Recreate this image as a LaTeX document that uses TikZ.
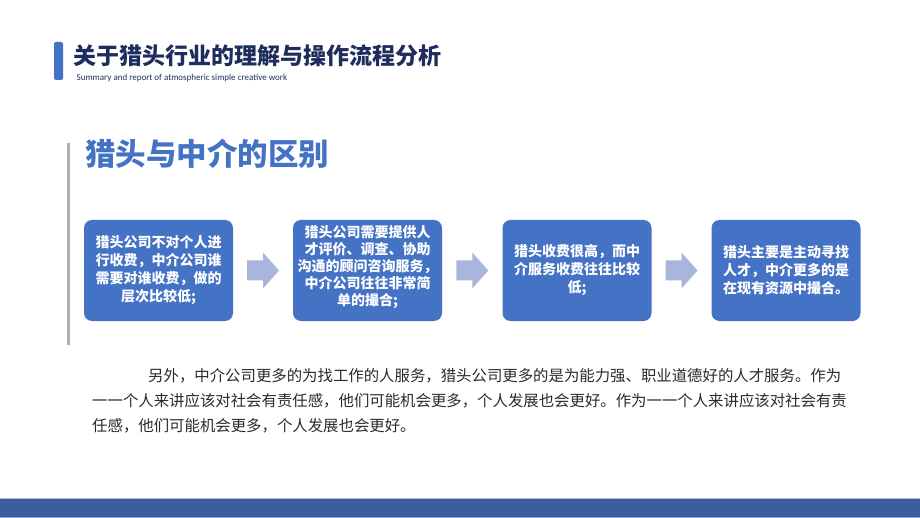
\documentclass[tikz,border=0pt]{standalone}
\usepackage{fontspec}
\setmainfont{Carlito}
\newfontfamily\cjk{Noto Sans CJK SC}
\XeTeXlinebreaklocale "zh"
\XeTeXlinebreakskip=0pt plus 2pt
\definecolor{accent}{HTML}{4472C4}
\definecolor{navy}{HTML}{1E2D5E}
\definecolor{arrowc}{HTML}{A9B5DD}
\definecolor{bodytxt}{HTML}{2B2B2B}
\definecolor{barblue}{HTML}{3A5E9E}
\definecolor{barlight}{HTML}{8EA7D0}
\definecolor{vline}{HTML}{AFAFAF}
\tikzset{
  stepbox/.style={fill=accent, rounded corners=8pt, minimum width=149pt, minimum height=101pt, inner sep=0pt},
  boxtxt/.style={text=white, align=center, inner sep=0pt, font=\cjk\bfseries\fontsize{14}{18}\selectfont},
  flowarrow/.style={fill=arrowc, draw=none},
  bodyline/.style={anchor=west, inner sep=0pt, text=bodytxt, font=\cjk\fontsize{15.4}{20}\selectfont}
}
\begin{document}
\begin{tikzpicture}[x=1pt,y=-1pt]
\useasboundingbox (0,0) rectangle (920,518);
\fill[white] (0,0) rectangle (920,518);
% header
\fill[accent, rounded corners=2pt] (54,42) rectangle (63,80);
\node[anchor=west, inner sep=0pt, text=navy, font=\cjk\bfseries\fontsize{23}{26}\selectfont] (title) at (73,56) {关于猎头行业的理解与操作流程分析};
\node[anchor=west, inner sep=0pt, text=navy, font=\fontsize{9}{10}\selectfont] (subtitle) at (76.5,78) {Summary and report of atmospheric simple creative work};
% section
\fill[vline] (67,143) rectangle (70,345);
\node[anchor=west, inner sep=0pt, text=accent, font=\cjk\bfseries\fontsize{30.5}{34}\selectfont] (heading) at (85,154) {猎头与中介的区别};
% boxes
\node[stepbox] (b1) at (158.5,270.5) {};
\node[stepbox] (b2) at (367.5,270.5) {};
\node[stepbox] (b3) at (577,270.5) {};
\node[stepbox] (b4) at (786,270.5) {};
\node[boxtxt] (t1) at (b1.center) {猎头公司不对个人进\\行收费，中介公司谁\\需要对谁收费，做的\\层次比较低;};
\node[boxtxt, font=\cjk\bfseries\fontsize{14}{17}\selectfont] (t2) at ([yshift=3]b2.center) {猎头公司需要提供人\\才评价、调查、协助\\沟通的顾问咨询服务，\\中介公司往往非常简\\单的撮合;};
\node[boxtxt] (t3) at (b3.center) {猎头收费很高，而中\\介服务收费往往比较\\低;};
\node[boxtxt] (t4) at (b4.center) {猎头主要是主动寻找\\人才，中介更多的是\\在现有资源中撮合。};
% arrows
\foreach \a/\b in {b1/b2, b2/b3, b3/b4}{
  \path (\a.east) -- (\b.west) coordinate[pos=0.5] (m);
  \fill[flowarrow] ([xshift=-16pt,yshift=-10pt]m) -- ([xshift=0pt,yshift=-10pt]m) -- ([xshift=0pt,yshift=-18pt]m) -- ([xshift=16pt]m) -- ([xshift=0pt,yshift=18pt]m) -- ([xshift=0pt,yshift=10pt]m) -- ([xshift=-16pt,yshift=10pt]m) -- cycle;
}
% paragraph
\node[bodyline] (p1) at (148,376) {\makebox[697pt][s]{另外，中介公司更多的为找工作的人服务，猎头公司更多的是为能力强、职业道德好的人才服务。作为}};
\node[bodyline] (p2) at (92,401) {\makebox[753pt][s]{一一个人来讲应该对社会有责任感，他们可能机会更多，个人发展也会更好。作为一一个人来讲应该对社会有责}};
\node[bodyline] (p3) at (92,426) {任感，他们可能机会更多，个人发展也会更好。};
% bottom bar
\fill[black!25] (0,497.5) rectangle (920,499);
\fill[barblue] (0,499) rectangle (920,518);
\fill[barlight] (0,516.5) rectangle (920,518);
\end{tikzpicture}
\end{document}
